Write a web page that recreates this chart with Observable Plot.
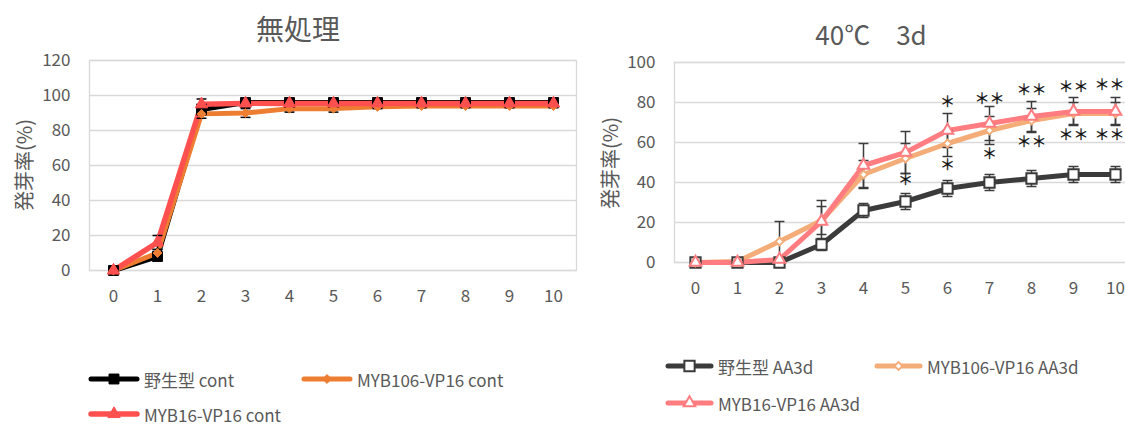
<!DOCTYPE html>
<html><head><meta charset="utf-8">
<script src="https://cdn.jsdelivr.net/npm/d3@7"></script>
<script src="https://cdn.jsdelivr.net/npm/@observablehq/plot@0.6"></script>
<style>
html,body{margin:0;padding:0;background:#fff;overflow:hidden;}
#root{position:relative;width:1125px;height:425px;overflow:hidden;font-family:"Noto Sans CJK JP","Noto Sans",sans-serif;color:#595959;}
.title{position:absolute;transform:translate(-50%,-50%);white-space:nowrap;line-height:1;}
.ylab{position:absolute;transform:translate(-50%,-50%) rotate(-90deg);white-space:nowrap;font-size:20px;line-height:1;}
.leg{position:absolute;display:flex;align-items:center;white-space:nowrap;transform:translateY(-50%);line-height:1;}
</style></head><body><div id="root"></div>
<script>
// ---- data ----
const days = [0,1,2,3,4,5,6,7,8,9,10];
// 無処理
const contWT        = [0, 8, 92, 96, 96, 96, 96, 96, 96, 96, 96];
const contWTErr     = [0, 2, 3, 2, 1.5, 1.5, 1, 1, 1, 1, 1];
const contMYB106    = [0, 10, 89.5, 90, 92.5, 92.5, 93.5, 94, 94, 94, 94];
const contMYB106Err = [0, 2, 2.5, 2.5, 2, 2, 1, 1, 1, 1, 1];
const contMYB16     = [0, 16, 95, 95.5, 95.5, 95.5, 95.5, 95.5, 95.5, 95.5, 95.5];
const contMYB16Err  = [0, 4, 3, 1.5, 1, 1, 1, 1, 1, 1, 1];
// 40℃ 3d
const heatWT        = [0, 0, 0, 9, 26, 30.5, 37, 40, 42, 44, 44];
const heatWTErr     = [0, 0, 0, 3, 3.5, 4, 4, 4, 4, 4, 4];
const heatMYB106    = [0, 0.5, 10.5, 21, 44, 52, 59.5, 66, 71, 74.5, 74.5];
const heatMYB106Err = [0, 0, 10, 7, 7, 7.5, 6.5, 7, 6, 5.5, 5.5];
const heatMYB16     = [0, 0, 1.5, 20.5, 48.5, 55, 66, 69.5, 73, 75.5, 75.5];
const heatMYB16Err  = [0, 0, 0, 10.5, 11, 10.5, 8.5, 8.5, 7.5, 7, 7];
// significance marks
const sigDays   = [5, 6, 6, 7, 7, 8, 8, 9, 9, 10, 10];
const sigY      = [41, 80, 48.5, 81.5, 54, 86.3, 60.2, 87.5, 63.5, 88.5, 63.5];
const sigLabels = ["＊","＊","＊","＊＊","＊","＊＊","＊＊","＊＊","＊＊","＊＊","＊＊"];
// labels
const leftTitle = "無処理";
const rightTitle = "40℃　3d";
const yTitle = "発芽率(%)";
const leftNames = ["野生型 cont", "MYB106-VP16 cont", "MYB16-VP16 cont"];
const rightNames = ["野生型 AA3d", "MYB106-VP16 AA3d", "MYB16-VP16 AA3d"];

// ---- helpers ----
const root = document.getElementById("root");
const rows = (vals, errs) => days.map((d, i) => ({day: d, v: vals[i], e: errs[i]}));
const capSymbol = {draw(ctx, size) { const w = Math.sqrt(size); ctx.moveTo(-w, 0); ctx.lineTo(w, 0); }};

function chart({left, width, height, mt, mb, ml, mr, yMax, series, errColor, extra = []}) {
  const ticks = d3.range(0, yMax + 1, 20);
  const marks = [
    Plot.gridY(ticks, {stroke: "#d9d9d9", strokeOpacity: 1, strokeWidth: 1.3}),
    Plot.frame({stroke: "#d9d9d9", strokeWidth: 1.3}),
    Plot.axisY(ticks, {tickSize: 0, tickPadding: 19, fontSize: 17, label: null}),
    Plot.axisX(days, {tickSize: 0, tickPadding: 19, fontSize: 17, label: null})
  ];
  for (const s of series) {
    marks.push(Plot.line(s.data, {x: "day", y: "v", stroke: s.color, strokeWidth: s.sw, curve: "linear"}));
  }
  for (const s of series) {
    const f = s.data.filter(d => d.e > 0);
    marks.push(Plot.ruleX(f, {x: "day", y1: d => d.v - d.e, y2: d => d.v + d.e, stroke: errColor, strokeWidth: 1.5}));
    marks.push(Plot.dot(f, {x: "day", y: d => d.v + d.e, symbol: capSymbol, r: 2.8, fill: "none", stroke: errColor, strokeWidth: 1.5}));
    marks.push(Plot.dot(f, {x: "day", y: d => d.v - d.e, symbol: capSymbol, r: 2.8, fill: "none", stroke: errColor, strokeWidth: 1.5}));
  }
  for (const s of series) {
    marks.push(Plot.dot(s.data, {x: "day", y: "v", symbol: s.symbol, r: s.r, fill: s.fill, stroke: s.mstroke, strokeWidth: s.msw}));
  }
  marks.push(...extra);
  const svg = Plot.plot({
    width, height,
    marginTop: mt, marginBottom: mb, marginLeft: ml, marginRight: mr,
    x: {type: "point", domain: days, padding: 0.5},
    y: {domain: [0, yMax]},
    style: {background: "transparent", color: "#595959", fontFamily: '"Noto Sans CJK JP","Noto Sans",sans-serif', overflow: "visible", maxWidth: "none"},
    marks
  });
  svg.style.position = "absolute";
  svg.style.left = left + "px";
  svg.style.top = "0px";
  root.appendChild(svg);
}

function text(cls, x, y, str, size) {
  const d = document.createElement("div");
  d.className = cls; d.textContent = str;
  d.style.left = x + "px"; d.style.top = y + "px";
  if (size) d.style.fontSize = size + "px";
  root.appendChild(d);
}

const d3sym = {square: d3.symbolSquare, triangle: d3.symbolTriangle, diamond2: d3.symbolDiamond2};
function legendItem(x, y, s, label, swW, fontSize) {
  const div = d3.select(root).append("div").attr("class", "leg")
    .style("left", x + "px").style("top", y + "px").style("font-size", fontSize + "px");
  const svg = div.append("svg").attr("width", swW).attr("height", 20).style("overflow", "visible");
  svg.append("line").attr("x1", 3).attr("x2", swW - 3).attr("y1", 10).attr("y2", 10)
    .attr("stroke", s.color).attr("stroke-width", s.sw).attr("stroke-linecap", "round");
  svg.append("path").attr("transform", `translate(${swW / 2},10)`)
    .attr("d", d3.symbol(d3sym[s.symbol], Math.PI * s.r * s.r)())
    .attr("fill", s.fill).attr("stroke", s.mstroke).attr("stroke-width", s.msw);
  div.append("span").text(label).style("margin-left", "4px");
}

// ---- left chart ----
const leftSeries = [
  {data: rows(contWT, contWTErr), color: "#000000", sw: 5, symbol: "square", r: 5.6, fill: "#000000", mstroke: "#000000", msw: 1},
  {data: rows(contMYB106, contMYB106Err), color: "#ED7D31", sw: 5, symbol: "diamond2", r: 4, fill: "#ED7D31", mstroke: "#ED7D31", msw: 1},
  {data: rows(contMYB16, contMYB16Err), color: "#FF5050", sw: 5.5, symbol: "triangle", r: 4.6, fill: "#FF5050", mstroke: "#FF5050", msw: 1}
];
chart({left: 0, width: 600, height: 320, mt: 60, mb: 50, ml: 89, mr: 24, yMax: 120, series: leftSeries, errColor: "#000000"});

// ---- right chart ----
const rightSeries = [
  {data: rows(heatWT, heatWTErr), color: "#3b3b3b", sw: 5, symbol: "square", r: 5.8, fill: "#ffffff", mstroke: "#3b3b3b", msw: 2},
  {data: rows(heatMYB106, heatMYB106Err), color: "#F4AC78", sw: 5, symbol: "diamond2", r: 3.6, fill: "#ffffff", mstroke: "#F4AC78", msw: 1.8},
  {data: rows(heatMYB16, heatMYB16Err), color: "#FF7C80", sw: 5, symbol: "triangle", r: 4.3, fill: "#ffffff", mstroke: "#FF7C80", msw: 2}
];
const sigData = sigDays.map((d, i) => ({day: d, y: sigY[i], t: sigLabels[i]}));
const sigStyle = {x: "day", y: "y", text: "t", fontSize: 15, fill: "#111111", stroke: "#111111", strokeWidth: 0.3, lineAnchor: "middle"};
chart({left: 580, width: 580, height: 312, mt: 62, mb: 50, ml: 94, mr: 24, yMax: 100, series: rightSeries, errColor: "#3b3b3b",
  extra: [
    Plot.text(sigData.filter(d => d.day < 10), {...sigStyle, textAnchor: "middle"}),
    Plot.text(sigData.filter(d => d.day === 10), {...sigStyle, textAnchor: "end", dx: 9})
  ]});

// ---- titles / axis titles ----
text("title", 298, 28, leftTitle, 28);
text("title", 871, 34, rightTitle, 26);
text("ylab", 24, 165, yTitle);
text("ylab", 610, 163, yTitle);

// ---- legends ----
legendItem(88, 379, leftSeries[0], leftNames[0], 52, 17);
legendItem(301, 379, leftSeries[1], leftNames[1], 52, 17);
legendItem(88, 414, leftSeries[2], leftNames[2], 52, 17);
legendItem(665, 366, rightSeries[0], rightNames[0], 49, 17);
legendItem(874, 366, rightSeries[1], rightNames[1], 49, 17);
legendItem(665, 403, rightSeries[2], rightNames[2], 49, 17);
</script>
</body></html>
